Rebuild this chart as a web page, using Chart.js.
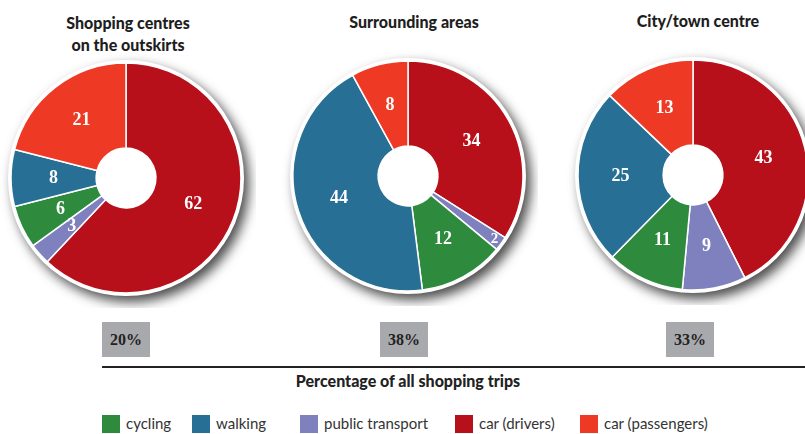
<!DOCTYPE html>
<html>
<head>
<meta charset="utf-8">
<script src="https://cdn.jsdelivr.net/npm/chart.js@4"></script>
<style>
  html, body { margin: 0; padding: 0; background: #fff; }
  body { width: 805px; height: 434px; position: relative; overflow: hidden; font-family: Lato, "Open Sans", sans-serif; color: #222; }
  .pie { position: absolute; width: 260px; height: 260px; }
  .title { position: absolute; font-weight: 900; font-size: 16px; text-align: center; line-height: 22px; width: 240px; color: #1e1e1e; }
  .share { position: absolute; top: 322px; width: 48px; height: 35px; background: #a8a9ac; font: bold 16px "Liberation Serif", serif; color: #222; text-align: center; line-height: 36px; }
  #rule { position: absolute; left: 102px; top: 366px; width: 703px; height: 1.5px; background: #222; }
  #caption { position: absolute; left: 102px; width: 612px; top: 371px; text-align: center; font-weight: 900; font-size: 16px; }
  #legend { position: absolute; top: 413px; left: 102px; font-size: 15px; color: #333; }
  #legend span.item { position: absolute; white-space: nowrap; line-height: 20px; }
  #legend i { display: inline-block; width: 18px; height: 18px; vertical-align: -4px; margin-right: 6px; }
</style>
</head>
<body>
<div id="titles"></div>
<canvas id="pie0" class="pie" width="260" height="260" style="left:-4px;top:48px"></canvas>
<canvas id="pie1" class="pie" width="260" height="260" style="left:278px;top:46px"></canvas>
<canvas id="pie2" class="pie" width="260" height="260" style="left:563px;top:45px"></canvas>
<div id="shares"></div>
<div id="rule"></div>
<div id="caption">Percentage of all shopping trips</div>
<div id="legend"></div>

<script>
// data
const categories = ['cycling', 'walking', 'public transport', 'car (drivers)', 'car (passengers)'];
const colours = ['#2e8a3d', '#276f94', '#7f81bf', '#b8101a', '#ee3a24'];
const outskirts = [6, 8, 3, 62, 21];
const surrounding = [12, 44, 2, 34, 8];
const cityCentre = [11, 25, 9, 43, 13];
const locations = ['Shopping centres<br>on the outskirts', 'Surrounding areas', 'City/town centre'];
const shareOfTrips = ['20%', '38%', '33%'];
// slices go clockwise from 12 o'clock in this order
const sliceOrder = [3, 2, 0, 1, 4];

const titlePos = [[8, 12], [294, 11], [578, 10]];
const sharePos = [102, 380, 666];
const legendPos = [0, 90, 198, 353, 478];

// titles, share boxes, legend
locations.forEach((t, i) => {
    const d = document.createElement('div');
    d.className = 'title';
    d.innerHTML = t;
    d.style.left = titlePos[i][0] + 'px';
    d.style.top = titlePos[i][1] + 'px';
    document.getElementById('titles').appendChild(d);

    const s = document.createElement('div');
    s.className = 'share';
    s.textContent = shareOfTrips[i];
    s.style.left = sharePos[i] + 'px';
    document.getElementById('shares').appendChild(s);
});
categories.forEach((c, i) => {
    const it = document.createElement('span');
    it.className = 'item';
    it.style.left = legendPos[i] + 'px';
    it.innerHTML = '<i style="background:' + colours[i] + '"></i>' + c;
    document.getElementById('legend').appendChild(it);
});

// white rim with a drop shadow behind the pie
const rimShadow = {
    id: 'rimShadow',
    beforeDatasetsDraw(chart) {
        const arc = chart.getDatasetMeta(0).data[0];
        if (!arc) return;
        const ctx = chart.ctx;
        ctx.save();
        ctx.shadowColor = 'rgba(0,0,0,0.7)';
        ctx.shadowBlur = 12;
        ctx.shadowOffsetX = 5;
        ctx.shadowOffsetY = 6;
        ctx.fillStyle = '#fff';
        ctx.beginPath();
        ctx.arc(arc.x, arc.y, arc.outerRadius + 3, 0, Math.PI * 2);
        ctx.fill();
        ctx.restore();
    }
};

// value labels inside the slices
const sliceLabels = {
    id: 'sliceLabels',
    afterDatasetsDraw(chart) {
        const ctx = chart.ctx;
        const meta = chart.getDatasetMeta(0);
        const vals = chart.data.datasets[0].data;
        ctx.save();
        ctx.fillStyle = '#fff';
        ctx.textAlign = 'center';
        ctx.textBaseline = 'middle';
        meta.data.forEach((arc, i) => {
            let p = arc.getCenterPoint();
            ctx.font = 'bold 18px "Liberation Serif", serif';
            if (vals[i] <= 2) {
                const mid = (arc.startAngle + arc.endAngle) / 2;
                const r = arc.outerRadius - 8;
                p = { x: arc.x + Math.cos(mid) * r, y: arc.y + Math.sin(mid) * r };
                ctx.font = 'bold 15px "Liberation Serif", serif';
            }
            ctx.fillText(vals[i], p.x, p.y);
        });
        ctx.restore();
    }
};

const makePie = (id, values) => {
    new Chart(document.getElementById(id), {
        type: 'doughnut',
        data: {
            labels: sliceOrder.map(k => categories[k]),
            datasets: [{
                data: sliceOrder.map(k => values[k]),
                backgroundColor: sliceOrder.map(k => colours[k]),
                borderColor: '#fff',
                borderWidth: 1.5
            }]
        },
        options: {
            responsive: false,
            animation: false,
            radius: 115,
            cutout: 31,
            layout: { padding: 10 },
            plugins: { legend: { display: false }, tooltip: { enabled: false } }
        },
        plugins: [rimShadow, sliceLabels]
    });
};

makePie('pie0', outskirts);
makePie('pie1', surrounding);
makePie('pie2', cityCentre);
</script>
</body>
</html>
